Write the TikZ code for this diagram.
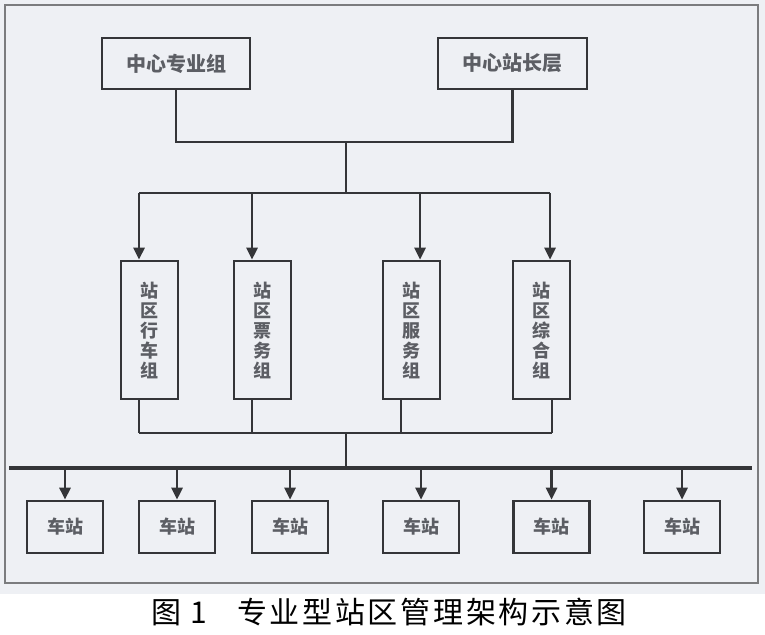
\documentclass[tikz,border=0pt]{standalone}
\usepackage{fontspec}
\newfontfamily\cjk{Noto Sans CJK SC}
\usetikzlibrary{arrows.meta}
\definecolor{paper}{RGB}{238,240,244}
\definecolor{ink}{RGB}{52,53,56}
\definecolor{glyph}{RGB}{92,94,100}
\begin{document}
\begin{tikzpicture}[x=1pt,y=-1pt,
  box/.style={draw=ink,line width=2.6pt,fill=paper,inner sep=0pt,text=glyph,font=\cjk\bfseries\fontsize{18}{20}\selectfont},
  link/.style={draw=ink,line width=2.6pt},
  arr/.style={link,-{Triangle[width=11pt,length=12pt]}}]
  \fill[paper] (0,0) rectangle (765,594);
  \fill[white] (0,594) rectangle (765,634);
  \useasboundingbox (0,0) rectangle (765,634);
  \draw[ink!65,line width=2.2pt] (5,5) rectangle (758,583);

  \node[box,minimum width=148pt,minimum height=51pt,font=\cjk\bfseries\fontsize{20}{22}\selectfont] (zyz) at (176,63.5) {中心专业组};
  \node[box,minimum width=149pt,minimum height=51pt,font=\cjk\bfseries\fontsize{20}{22}\selectfont] (zzc) at (512.5,63.5) {中心站长层};
  \coordinate (top) at (346,142);
  \coordinate (mid) at (346,193);
  \draw[link] (zyz.south) |- (top) -| (zzc.south);
  \draw[link] (top) -- (mid);

  \foreach \name/\x/\tx/\bx/\lab in {
    g1/149.5/139/139/{站\\区\\行\\车\\组},
    g2/262.5/252/252/{站\\区\\票\\务\\组},
    g3/411.5/420/401/{站\\区\\服\\务\\组},
    g4/541.5/550/552/{站\\区\\综\\合\\组}}
  {
    \node[box,minimum width=57pt,minimum height=138pt,align=center] (\name) at (\x,330) {\lab};
    \coordinate (\name-in) at ([xshift=\tx-\x]\name.north);
    \coordinate (\name-out) at ([xshift=\bx-\x]\name.south);
    \draw[arr] (\name-in |- mid) -- (\name-in);
  }
  \draw[link] (g1-in |- mid) -- (g4-in |- mid);

  \coordinate (low) at (346,433);
  \coordinate (busl) at (9,468);
  \coordinate (busr) at (752,468);
  \foreach \name in {g1,g2,g3,g4}
    \draw[link] (\name-out) -- (\name-out |- low);
  \draw[link] (g1-out |- low) -- (g4-out |- low);
  \draw[link] (low) -- (low |- busl);
  \draw[link,line width=3.4pt] (busl) -- (busr);

  \foreach \i/\x in {1/65,2/177,3/290,4/421,5/551.5,6/682} {
    \node[box,minimum width=76pt,minimum height=52pt] (cz\i) at (\x,527) {车站};
    \draw[arr] (cz\i.north |- busl) -- (cz\i.north);
  }

  \node[font=\cjk\fontsize{30}{30}\selectfont\addfontfeature{LetterSpace=9}] (cap) at (389,612) {图 1\quad 专业型站区管理架构示意图};
\end{tikzpicture}
\end{document}
